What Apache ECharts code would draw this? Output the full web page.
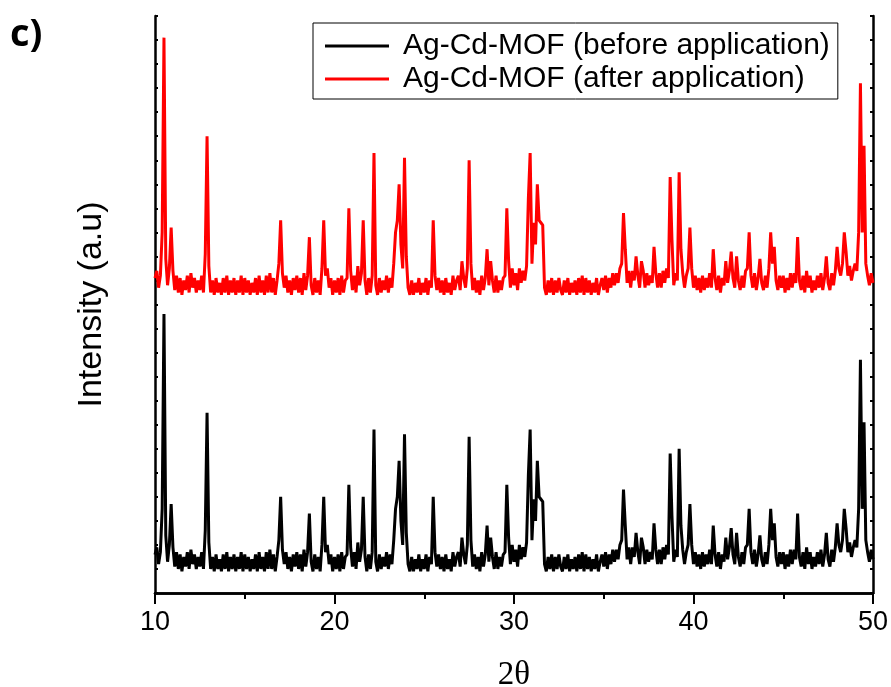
<!DOCTYPE html>
<html>
<head>
<meta charset="utf-8">
<script src="https://cdn.jsdelivr.net/npm/echarts@6/dist/echarts.min.js"></script>
<style>html,body{margin:0;padding:0;background:#fff;}#chart{width:891px;height:687px;}</style>
</head>
<body>
<div id="chart"></div>
<script>
// 2θ grid: 10.0 to 50.0 in steps of 0.1 (401 points)
const thetaStart = 10.0;
const thetaStep = 0.1;

// Intensity (a.u.), one row per degree (x.0 ... x.9)
const before = [
  16,19,12,17,35,116,24,13,20,37,
  19,11,17,10,16,9,15,11,17,10,
  18,12,16,10,15,11,17,10,26,75,
  21,10,15,9,16,10,14,9,16,10,
  17,9,15,10,16,9,15,10,17,9,
  16,10,15,9,14,10,16,9,17,10,
  15,9,17,10,18,10,16,9,15,22,
  40,18,12,17,10,15,9,16,11,17,
  10,16,9,18,11,17,33,13,9,16,
  10,15,9,20,40,17,20,12,16,9,
  15,10,16,9,17,10,15,16,45,19,
  11,17,10,21,13,18,40,15,9,16,
  10,17,68,13,9,16,10,15,11,17,
  10,16,12,22,35,40,55,30,20,66,
  25,12,9,15,9,14,10,16,9,14,
  10,16,9,15,12,40,17,11,16,10,
  15,9,16,10,14,9,17,11,15,17,
  11,23,16,12,20,65,22,11,16,10,
  15,9,17,11,16,28,13,23,15,10,
  17,10,15,11,16,17,45,23,12,20,
  13,18,11,20,14,19,15,21,49,68,
  22,39,30,55,40,39,38,12,9,15,
  10,16,9,15,10,16,11,9,15,10,
  16,9,14,10,15,9,16,10,17,9,
  16,10,15,9,14,10,16,9,13,16,
  11,17,10,16,12,18,13,18,14,20,
  22,43,28,14,19,12,19,15,25,17,
  12,23,19,12,18,13,17,14,29,18,
  12,18,12,19,14,20,16,58,32,13,
  18,15,60,28,18,12,17,20,37,20,
  12,17,11,16,10,17,11,16,12,18,
  12,28,16,11,17,10,16,13,23,14,
  19,27,16,12,25,15,11,17,12,19,
  20,35,17,12,18,11,16,24,14,11,
  17,12,20,35,22,29,15,11,17,12,
  17,10,16,11,18,12,18,14,33,15,
  11,17,10,19,12,17,10,15,11,17,
  12,18,11,16,25,14,11,18,13,19,
  29,20,17,22,35,27,17,21,15,19,
  22,19,35,97,35,71,22,17,13,18,
  14
];

const after = [
  131,134,127,132,150,231,139,128,135,152,
  134,126,132,125,131,124,130,126,132,125,
  133,127,131,125,130,126,132,125,141,190,
  136,125,130,124,131,125,129,124,131,125,
  132,124,130,125,131,124,130,125,132,124,
  131,125,130,124,129,125,131,124,132,125,
  130,124,132,125,133,125,131,124,130,137,
  155,133,127,132,125,130,124,131,126,132,
  125,131,124,133,126,132,148,128,124,131,
  125,130,124,135,155,132,135,127,131,124,
  130,125,131,124,132,125,130,131,160,134,
  126,132,125,136,128,133,155,130,124,131,
  125,132,183,128,124,131,125,130,126,132,
  125,131,127,137,150,155,170,145,135,181,
  140,127,124,130,124,129,125,131,124,129,
  125,131,124,130,127,155,132,126,131,125,
  130,124,131,125,129,124,132,126,130,132,
  126,138,131,127,135,180,137,126,131,125,
  130,124,132,126,131,143,128,138,130,125,
  132,125,130,126,131,132,160,138,127,135,
  128,133,126,135,129,134,130,136,164,183,
  137,154,145,170,155,154,153,127,124,130,
  125,131,124,130,125,131,126,124,130,125,
  131,124,129,125,130,124,131,125,132,124,
  131,125,130,124,129,125,131,124,128,131,
  126,132,125,131,127,133,128,133,129,135,
  137,158,143,129,134,127,134,130,140,132,
  127,138,134,127,133,128,132,129,144,133,
  127,133,127,134,129,135,131,173,147,128,
  133,130,175,143,133,127,132,135,152,135,
  127,132,126,131,125,132,126,131,127,133,
  127,143,131,126,132,125,131,128,138,129,
  134,142,131,127,140,130,126,132,127,134,
  135,150,132,127,133,126,131,139,129,126,
  132,127,135,150,137,144,130,126,132,127,
  132,125,131,126,133,127,133,129,148,130,
  126,132,125,134,127,132,125,130,126,132,
  127,133,126,131,140,129,126,133,128,134,
  144,135,132,137,150,142,132,136,130,134,
  137,134,150,212,150,186,137,132,128,133,
  129
];

const seriesNames = ['Ag-Cd-MOF (before application)', 'Ag-Cd-MOF (after application)'];
const xTicks = [10, 20, 30, 40, 50];

const theta = before.map((_, i) => +(thetaStart + i * thetaStep).toFixed(1));
const pairs = arr => arr.map((v, i) => [theta[i], v]);

const chart = echarts.init(document.getElementById('chart'), null, {renderer: 'canvas'});
const axisLine = {show: true, lineStyle: {color: '#000', width: 2.5}};
chart.setOption({
  animation: false,
  backgroundColor: '#fff',
  graphic: [{
    type: 'text', left: 10, top: 16,
    style: {text: 'c)', font: 'bold 38px "Open Sans", sans-serif', fill: '#000'}
  }],
  legend: {
    orient: 'vertical',
    left: 313, top: 23,
    data: seriesNames,
    icon: 'rect',
    itemWidth: 64, itemHeight: 3,
    itemGap: 3,
    padding: [8, 8, 5, 12],
    borderColor: '#000', borderWidth: 1,
    textStyle: {fontSize: 30, lineHeight: 30, fontFamily: '"Liberation Sans", Arial, sans-serif', color: '#000', padding: [0, 0, 0, 9]}
  },
  grid: {left: 155, right: 18, top: 16, bottom: 94, containLabel: false, outerBoundsMode: 'none'},
  xAxis: [{
    type: 'value', position: 'bottom', min: 10, max: 50, interval: 10,
    name: '2θ', nameLocation: 'middle', nameGap: 66,
    nameTextStyle: {fontSize: 33, fontFamily: '"Liberation Serif", "Times New Roman", serif', color: '#000'},
    axisLine: axisLine,
    axisTick: {show: true, inside: false, length: 11, lineStyle: {color: '#000', width: 2}},
    minorTick: {show: true, splitNumber: 2, length: 6, lineStyle: {color: '#000', width: 2}},
    axisLabel: {fontSize: 27, fontFamily: '"Liberation Sans", Arial, sans-serif', color: '#000', margin: 16,
      formatter: v => xTicks.includes(v) ? String(v) : ''},
    splitLine: {show: false}
  }, {
    type: 'value', position: 'top', min: 10, max: 50, interval: 5,
    axisLine: axisLine,
    axisTick: {show: true, inside: true, length: 4, lineStyle: {color: '#000', width: 1.5}},
    axisLabel: {show: false}, splitLine: {show: false}
  }],
  yAxis: [{
    type: 'value', position: 'left', min: 0, max: 240, interval: 10,
    name: 'Intensity (a.u)', nameLocation: 'middle', nameGap: 46,
    nameTextStyle: {fontSize: 34, fontFamily: '"Liberation Sans", Arial, sans-serif', color: '#000'},
    axisLine: axisLine,
    axisTick: {show: true, inside: true, length: 3, lineStyle: {color: '#000', width: 2}},
    axisLabel: {show: false}, splitLine: {show: false}
  }, {
    type: 'value', position: 'right', min: 0, max: 240, interval: 10,
    axisLine: axisLine,
    axisTick: {show: true, inside: true, length: 3, lineStyle: {color: '#000', width: 2}},
    axisLabel: {show: false}, splitLine: {show: false}
  }],
  series: [{
    name: seriesNames[0], type: 'line', data: pairs(before),
    showSymbol: false, symbol: 'none',
    lineStyle: {color: '#000', width: 3}, itemStyle: {color: '#000'}
  }, {
    name: seriesNames[1], type: 'line', data: pairs(after),
    showSymbol: false, symbol: 'none',
    lineStyle: {color: '#ff0000', width: 3}, itemStyle: {color: '#ff0000'}
  }]
});
</script>
</body>
</html>
